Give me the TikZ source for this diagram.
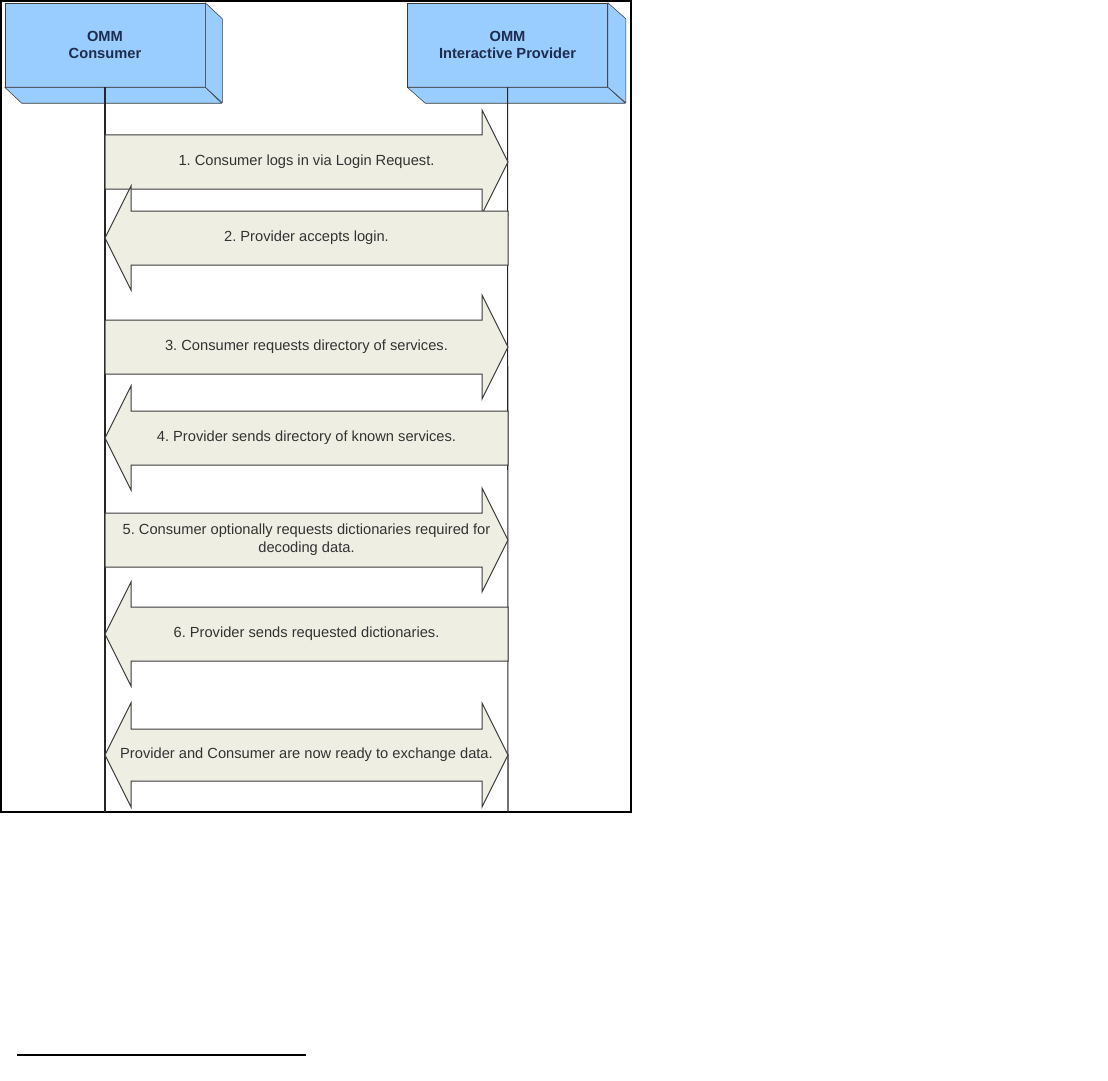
\documentclass[tikz,border=0pt]{standalone}
\usepackage{fontspec}
\setmainfont{Liberation Sans}
\usepackage{xcolor}
\usetikzlibrary{positioning}
\frenchspacing
\definecolor{boxc}{HTML}{99CCFF}
\definecolor{edgec}{HTML}{3C3C3C}
\definecolor{titlec}{HTML}{1F2D4D}
\definecolor{msgbg}{HTML}{EEEEE3}
\definecolor{msgtx}{HTML}{333333}
\tikzset{
  actor/.style={draw=edgec,fill=boxc,minimum width=150pt,minimum height=63pt,align=center,inner sep=0pt,font=\fontsize{11}{12.75}\selectfont\bfseries,text=titlec},
  face/.style={draw=edgec,fill=boxc,line join=round},
  life/.style={draw=black!85,line width=0.8pt},
  msg/.style={draw=edgec,fill=msgbg,line width=0.75pt},
  msgtxt/.style={font=\fontsize{11}{13.5}\selectfont,text=msgtx,align=center}
}

\begin{document}
\begin{tikzpicture}[x=0.75pt,y=-0.75pt]
\useasboundingbox (0,0) rectangle (1108,1081);
\draw[line width=1.6pt] (1,1) rectangle (631,812);
% the two parties
\node[actor] (cons) at (105,45) {OMM\\Consumer};
\node[actor,right=151.5pt of cons] (prov) {OMM\\Interactive Provider};
\draw[face] (cons.north east) -- ++(17,16) -- ++(0,84) -- (cons.south east) -- cycle;
\draw[face] (cons.south west) -- ++(17,16) -- ++(200,0) -- (cons.south east) -- cycle;
\draw[face] (prov.north east) -- ++(18,16) -- ++(0,84) -- (prov.south east) -- cycle;
\draw[face] (prov.south west) -- ++(18,16) -- ++(200,0) -- (prov.south east) -- cycle;
% lifelines
\coordinate (consend) at (105,812);
\coordinate (provend) at (508,812);
\draw[life] (cons.south) -- (consend);
\draw[life] (prov.south) -- (provend);
% consumer -> provider
\foreach \c in {162,347,540}
  \draw[msg] (105,\c-27) -- (482,\c-27) -- (482,\c-52) -- (508,\c) -- (482,\c+52) -- (482,\c+27) -- (105,\c+27) -- cycle;
% provider -> consumer
\foreach \c in {238,438,634}
  \draw[msg] (508,\c-27) -- (131,\c-27) -- (131,\c-52) -- (105,\c) -- (131,\c+52) -- (131,\c+27) -- (508,\c+27) -- cycle;
% both ways
\draw[msg] (131,729) -- (482,729) -- (482,703) -- (508,755) -- (482,807) -- (482,781) -- (131,781) -- (131,807) -- (105,755) -- (131,703) -- cycle;
\node[msgtxt] (m1) at (306.5,162) {1. Consumer logs in via Login Request.};
\node[msgtxt] (m2) at (306.5,238) {2. Provider accepts login.};
\node[msgtxt] (m3) at (306.5,347) {3. Consumer requests directory of services.};
\node[msgtxt] (m4) at (306.5,438) {4. Provider sends directory of known services.};
\node[msgtxt] (m5) at (306.5,540) {5. Consumer optionally requests dictionaries required for\\decoding data.};
\node[msgtxt] (m6) at (306.5,634) {6. Provider sends requested dictionaries.};
\node[msgtxt] (m7) at (306.5,755) {Provider and Consumer are now ready to exchange data.};
% footnote rule
\coordinate (fnl) at (17,1055);
\coordinate (fnr) at (306,1055);
\draw[line width=0.9pt] (fnl) -- (fnr);
\end{tikzpicture}
\end{document}
